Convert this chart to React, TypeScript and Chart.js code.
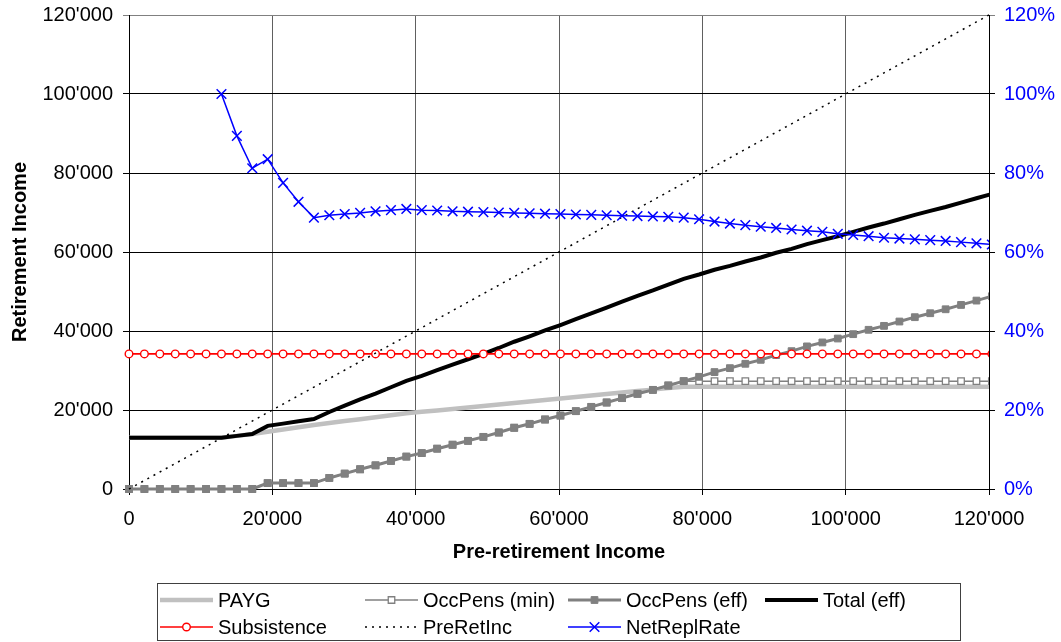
import React, { useEffect, useRef } from "react";
import { Chart, registerables } from "chart.js";

Chart.register(...registerables);

// Pre-retirement income (x values)
const income = [
  0, 2150, 4300, 6450, 8600, 10750, 12900, 15050, 17200, 19350,
  21500, 23650, 25800, 27950, 30100, 32250, 34400, 36550, 38700, 40850,
  43000, 45150, 47300, 49450, 51600, 53750, 55900, 58050, 60200, 62350,
  64500, 66650, 68800, 70950, 73100, 75250, 77400, 79550, 81700, 83850,
  86000, 88150, 90300, 92450, 94600, 96750, 98900, 101050, 103200, 105350,
  107500, 109650, 111800, 113950, 116100, 118250, 120400,
];

const payg = [
  13000, 13000, 13000, 13000, 13000, 13000, 13000, 13450, 13900, 14480,
  15050, 15630, 16200, 16700, 17190, 17680, 18170, 18660, 19150, 19530,
  19900, 20280, 20650, 21030, 21400, 21780, 22160, 22530, 22910, 23280,
  23660, 24040, 24410, 24790, 25160, 25540, 25900, 25900, 25900, 25900,
  25900, 25900, 25900, 25900, 25900, 25900, 25900, 25900, 25900, 25900,
  25900, 25900, 25900, 25900, 25900, 25900, 25900,
];

const occPensMin = [
  0, 0, 0, 0, 0, 0, 0, 0, 0, 1500,
  1500, 1500, 1500, 2800, 3900, 5000, 6000, 7100, 8200, 9100,
  10200, 11200, 12200, 13200, 14300, 15500, 16500, 17600, 18600, 19700,
  20800, 21900, 23000, 24100, 25100, 26200, 27300, 27300, 27300, 27300,
  27300, 27300, 27300, 27300, 27300, 27300, 27300, 27300, 27300, 27300,
  27300, 27300, 27300, 27300, 27300, 27300, 27300,
];

const occPensEff = [
  0, 0, 0, 0, 0, 0, 0, 0, 0, 1500,
  1500, 1500, 1500, 2800, 3900, 5000, 6000, 7100, 8200, 9100,
  10200, 11200, 12200, 13200, 14300, 15500, 16500, 17600, 18600, 19700,
  20800, 21900, 23000, 24100, 25100, 26200, 27300, 28400, 29600, 30600,
  31700, 32700, 33900, 34900, 36100, 37100, 38100, 39200, 40300, 41300,
  42400, 43500, 44500, 45500, 46600, 47700, 48800,
];

const totalEff = [
  13000, 13000, 13000, 13000, 13000, 13000, 13000, 13450, 13900, 15980,
  16550, 17130, 17700, 19500, 21090, 22680, 24170, 25760, 27350, 28630,
  30100, 31480, 32850, 34230, 35700, 37280, 38660, 40130, 41510, 42980,
  44460, 45940, 47410, 48890, 50260, 51740, 53200, 54300, 55500, 56500,
  57600, 58600, 59800, 60800, 62000, 63000, 64000, 65100, 66200, 67200,
  68300, 69400, 70400, 71400, 72500, 73600, 74700,
];

const subsistence = [
  34200, 34200, 34200, 34200, 34200, 34200, 34200, 34200, 34200, 34200,
  34200, 34200, 34200, 34200, 34200, 34200, 34200, 34200, 34200, 34200,
  34200, 34200, 34200, 34200, 34200, 34200, 34200, 34200, 34200, 34200,
  34200, 34200, 34200, 34200, 34200, 34200, 34200, 34200, 34200, 34200,
  34200, 34200, 34200, 34200, 34200, 34200, 34200, 34200, 34200, 34200,
  34200, 34200, 34200, 34200, 34200, 34200, 34200,
];

const preRetInc = [
  0, 2150, 4300, 6450, 8600, 10750, 12900, 15050, 17200, 19350,
  21500, 23650, 25800, 27950, 30100, 32250, 34400, 36550, 38700, 40850,
  43000, 45150, 47300, 49450, 51600, 53750, 55900, 58050, 60200, 62350,
  64500, 66650, 68800, 70950, 73100, 75250, 77400, 79550, 81700, 83850,
  86000, 88150, 90300, 92450, 94600, 96750, 98900, 101050, 103200, 105350,
  107500, 109650, 111800, 113950, 116100, 118250, 120400,
];

// Net replacement rate, % (right axis)
const netReplRate = [
  null, null, null, null, null, null, 100.0, 89.4, 81.2, 83.5,
  77.5, 72.7, 68.7, 69.3, 69.6, 69.9, 70.3, 70.6, 70.9, 70.6,
  70.5, 70.3, 70.2, 70.1, 70.0, 69.9, 69.8, 69.7, 69.6, 69.5,
  69.4, 69.3, 69.2, 69.1, 69.0, 68.9, 68.7, 68.3, 67.7, 67.2,
  66.8, 66.4, 66.1, 65.7, 65.4, 65.1, 64.6, 64.3, 64.0, 63.6,
  63.4, 63.2, 63.0, 62.8, 62.5, 62.2, 61.9,
];

const xTicks = [0, 20000, 40000, 60000, 80000, 100000, 120000];
const yTicks = [0, 20000, 40000, 60000, 80000, 100000, 120000];
const y2Ticks = [0, 20, 40, 60, 80, 100, 120];

const seriesLabels = [
  "PAYG",
  "OccPens (min)",
  "OccPens (eff)",
  "Total (eff)",
  "Subsistence",
  "PreRetInc",
  "NetReplRate",
];

const FONT = '"Liberation Sans", Arial, Helvetica, sans-serif';

const fmt = (v: number) =>
  String(Math.round(v)).replace(/\B(?=(\d{3})+(?!\d))/g, "'");

type Style = {
  color: string;
  width: number;
  dash?: number[];
  marker?: "rect" | "circle" | "crossRot";
  radius?: number;
  fill?: string;
  mWidth?: number;
};

const styles: Style[] = [
  { color: "#c0c0c0", width: 4.5 },
  { color: "#808080", width: 1.5, marker: "rect", radius: 4.6, fill: "#ffffff", mWidth: 1.3 },
  { color: "#808080", width: 3, marker: "rect", radius: 4.8, fill: "#808080", mWidth: 1 },
  { color: "#000000", width: 4 },
  { color: "#ff0000", width: 1.6, marker: "circle", radius: 3.8, fill: "#ffffff", mWidth: 1.4 },
  { color: "#000000", width: 1.5, dash: [2, 5] },
  { color: "#0000ff", width: 1.5, marker: "crossRot", radius: 6.8, fill: "#0000ff", mWidth: 1.5 },
];

const legendCols = [160, 365, 568, 765];
const legendRows = [600, 627];

function drawMarker(ctx: CanvasRenderingContext2D, s: Style, x: number, y: number) {
  if (!s.marker) return;
  const r = s.radius || 4;
  ctx.save();
  ctx.setLineDash([]);
  ctx.lineWidth = s.mWidth || 1;
  ctx.strokeStyle = s.color;
  ctx.fillStyle = s.fill || s.color;
  if (s.marker === "rect") {
    const h = Math.SQRT1_2 * r;
    ctx.beginPath();
    ctx.rect(x - h, y - h, 2 * h, 2 * h);
    ctx.fill();
    ctx.stroke();
  } else if (s.marker === "circle") {
    ctx.beginPath();
    ctx.arc(x, y, r, 0, Math.PI * 2);
    ctx.fill();
    ctx.stroke();
  } else {
    const h = Math.SQRT1_2 * r;
    ctx.beginPath();
    ctx.moveTo(x - h, y - h);
    ctx.lineTo(x + h, y + h);
    ctx.moveTo(x - h, y + h);
    ctx.lineTo(x + h, y - h);
    ctx.stroke();
  }
  ctx.restore();
}

const legendPlugin = {
  id: "customLegend",
  afterDraw(chart: any) {
    const ctx: CanvasRenderingContext2D = chart.ctx;
    ctx.save();
    ctx.strokeStyle = "#404040";
    ctx.lineWidth = 1;
    ctx.strokeRect(157.5, 583.5, 803, 57);
    ctx.font = `20px ${FONT}`;
    ctx.textBaseline = "middle";
    ctx.textAlign = "left";
    seriesLabels.forEach((label, i) => {
      const s = styles[i];
      const x0 = legendCols[i % 4];
      const y = legendRows[Math.floor(i / 4)];
      ctx.save();
      ctx.strokeStyle = s.color;
      ctx.lineWidth = s.width;
      ctx.setLineDash(s.dash || []);
      ctx.beginPath();
      ctx.moveTo(x0, y);
      ctx.lineTo(x0 + 53, y);
      ctx.stroke();
      ctx.restore();
      drawMarker(ctx, s, x0 + 26.5, y);
      ctx.fillStyle = "#000";
      ctx.fillText(label, x0 + 58, y + 1);
    });
    ctx.restore();
  },
};

function mkData(arr: (number | null)[]) {
  return income.map((x, i) => ({ x, y: arr[i] }));
}

const zeroPad = (s: any) => {
  s.paddingTop = 0;
  s.paddingBottom = 0;
  s.paddingLeft = 0;
  s.paddingRight = 0;
};

export default function App() {
  const ref = useRef<HTMLCanvasElement | null>(null);

  useEffect(() => {
    if (!ref.current) return;
    const seriesValues = [payg, occPensMin, occPensEff, totalEff, subsistence, preRetInc, netReplRate];
    const datasets = seriesLabels.map((label, i) => {
      const s = styles[i];
      return {
        label,
        data: mkData(seriesValues[i] as (number | null)[]),
        yAxisID: i === 6 ? "y1" : "y",
        borderColor: s.color,
        backgroundColor: s.fill || s.color,
        borderWidth: s.width,
        borderDash: s.dash || [],
        pointStyle: s.marker || "circle",
        pointRadius: s.marker ? s.radius : 0,
        pointBorderWidth: s.mWidth || 1,
        pointBorderColor: s.color,
        pointBackgroundColor: s.fill || s.color,
        tension: 0,
        spanGaps: false,
        order: 7 - i,
        clip: { left: 12, top: 12, right: 0, bottom: 12 },
      };
    });

    const chart = new Chart(ref.current, {
      type: "line",
      data: { datasets },
      plugins: [legendPlugin],
      options: {
        responsive: false,
        animation: false,
        events: [],
        layout: { padding: { top: 15, left: 0, right: 0, bottom: 78 } },
        plugins: {
          legend: { display: false },
          tooltip: { enabled: false },
        },
        scales: {
          x: {
            type: "linear",
            min: 0,
            max: 120000,
            afterBuildTicks: (s: any) => {
              s.ticks = xTicks.map((v) => ({ value: v }));
            },
            afterFit: (s: any) => {
              s.height = 75;
              zeroPad(s);
            },
            ticks: {
              callback: (v: any) => fmt(Number(v)),
              color: "#000",
              font: { family: FONT, size: 20 },
              padding: 12,
              maxRotation: 0,
              autoSkip: false,
            },
            grid: { color: "#606060", tickColor: "#000", tickLength: 6, lineWidth: 1 },
            border: { color: "#000", width: 1 },
            title: {
              display: true,
              text: "Pre-retirement Income",
              color: "#000",
              font: { family: FONT, size: 20, weight: "bold" },
              padding: { top: 0, bottom: 0 },
            },
          },
          y: {
            type: "linear",
            position: "left",
            min: 0,
            max: 120000,
            afterBuildTicks: (s: any) => {
              s.ticks = yTicks.map((v) => ({ value: v }));
            },
            afterFit: (s: any) => {
              s.width = 129;
              zeroPad(s);
            },
            ticks: {
              callback: (v: any) => fmt(Number(v)),
              color: "#000",
              font: { family: FONT, size: 20 },
              padding: 10,
            },
            grid: {
              color: (c: any) => (c.tick && c.tick.value === 120000 ? "#808080" : "#000"),
              tickLength: 6,
              lineWidth: 1,
            },
            border: { color: "#000", width: 1 },
            title: {
              display: true,
              text: "Retirement Income",
              color: "#000",
              font: { family: FONT, size: 20, weight: "bold" },
              padding: { top: 8, bottom: 0 },
            },
          },
          y1: {
            type: "linear",
            position: "right",
            min: 0,
            max: 120,
            afterBuildTicks: (s: any) => {
              s.ticks = y2Ticks.map((v) => ({ value: v }));
            },
            afterFit: (s: any) => {
              s.width = 72;
              zeroPad(s);
            },
            ticks: {
              callback: (v: any) => `${v}%`,
              color: "#0000ff",
              font: { family: FONT, size: 20 },
              padding: 9,
            },
            grid: {
              drawOnChartArea: false,
              color: (c: any) => (c.tick && c.tick.value === 120 ? "#808080" : "#000"),
              tickLength: 6,
            },
            border: { color: "#000", width: 1 },
          },
        },
      } as any,
    });
    return () => chart.destroy();
  }, []);

  return (
    <div style={{ position: "fixed", left: 0, top: 0, width: 1061, height: 642, background: "#fff" }}>
      <canvas ref={ref} width={1061} height={642} style={{ display: "block" }} />
    </div>
  );
}
